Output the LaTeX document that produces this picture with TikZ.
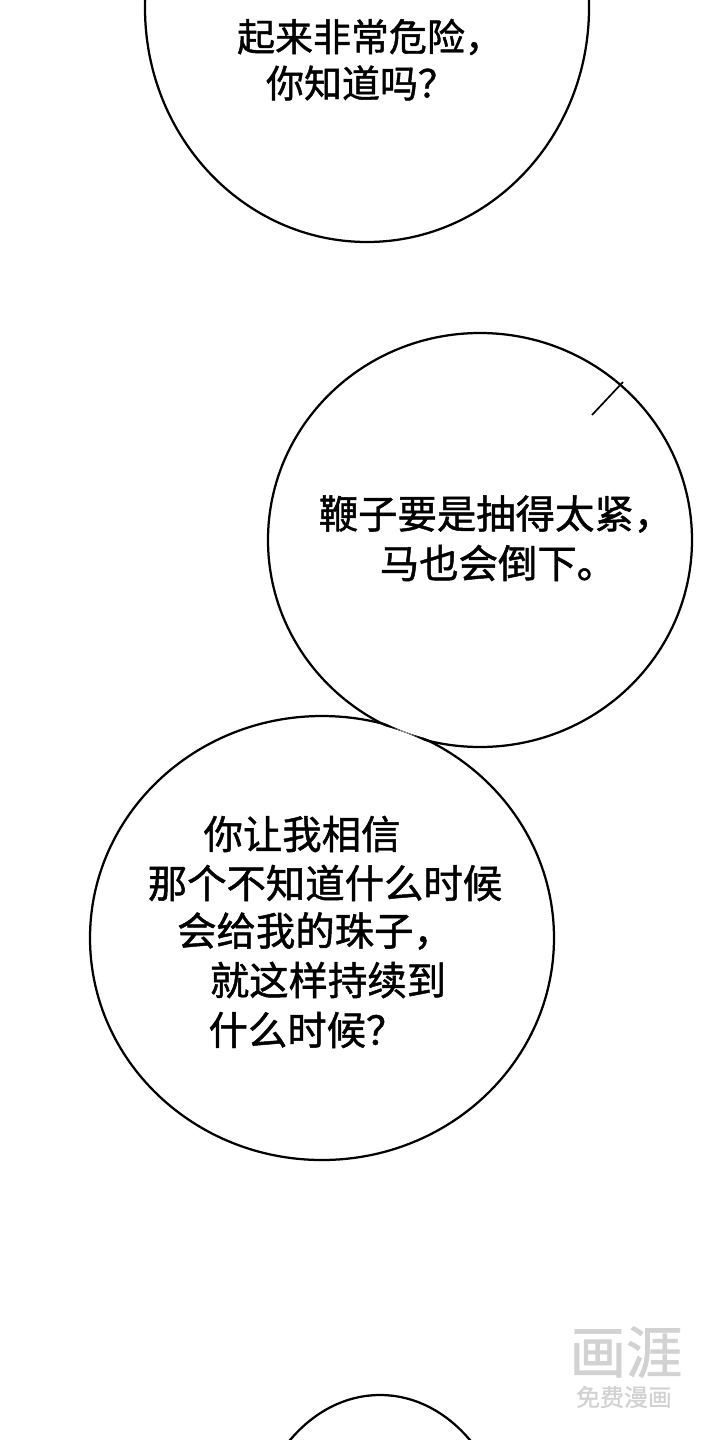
\documentclass[tikz,border=0pt]{standalone}
\usepackage{fontspec}
\newfontfamily\cjk{Noto Sans CJK SC}[FakeBold=1.2]
\begin{document}
\begin{tikzpicture}[
        x=0.025cm, y=-0.025cm,
        outline/.style={draw, line width=1.6pt},
        talk/.style={font=\cjk\fontsize{#1}{#1}\selectfont, inner sep=0pt, anchor=center},
        talk/.default=28,
        wmark/.style={font=\cjk\fontsize{#1}{#1}\selectfont, text=gray!35, inner sep=0pt}
    ]
  \useasboundingbox (0,0) rectangle (720,1440);
  \clip (0,0) rectangle (720,1440);

  % Bubbles
  \path[outline] (367,8) ellipse [x radius=222, y radius=234];
  \path[outline] (322,938) ellipse [x radius=232, y radius=222];
  \path[outline] (480,540) ellipse [x radius=212, y radius=207];
  \fill[white] (322,938) ellipse [x radius=230, y radius=220];
  \fill[white] (480,540) ellipse [x radius=210, y radius=205];
  \path[outline] (380,1560) ellipse [x radius=131, y radius=165];
  \coordinate (tickA) at (592,415);
  \coordinate (tickB) at (623,382);
  \draw[line width=1.2pt] (tickA) -- (tickB);

  % Text
  \node[talk=27] (t1) at (370,37) {起来非常危险，};
  \node[talk=27] (t2) at (361,83) {你知道吗？};
  \node[talk] (m1) at (496,514) {鞭子要是抽得太紧，};
  \node[talk] (m2) at (498,563) {马也会倒下。};
  \node[talk] (b1) at (302,834) {你让我相信};
  \node[talk] (b2) at (325,883) {那个不知道什么时候};
  \node[talk] (b3) at (315,931) {会给我的珠子，};
  \node[talk] (b4) at (328,980) {就这样持续到};
  \node[talk] (b5) at (307,1030) {什么时候？};

  % Watermark
  \node[wmark=40] (wm1) at (626,1352) {画涯};
  \node[wmark=17] (wm2) at (624,1397) {免费漫画};
\end{tikzpicture}
\end{document}
